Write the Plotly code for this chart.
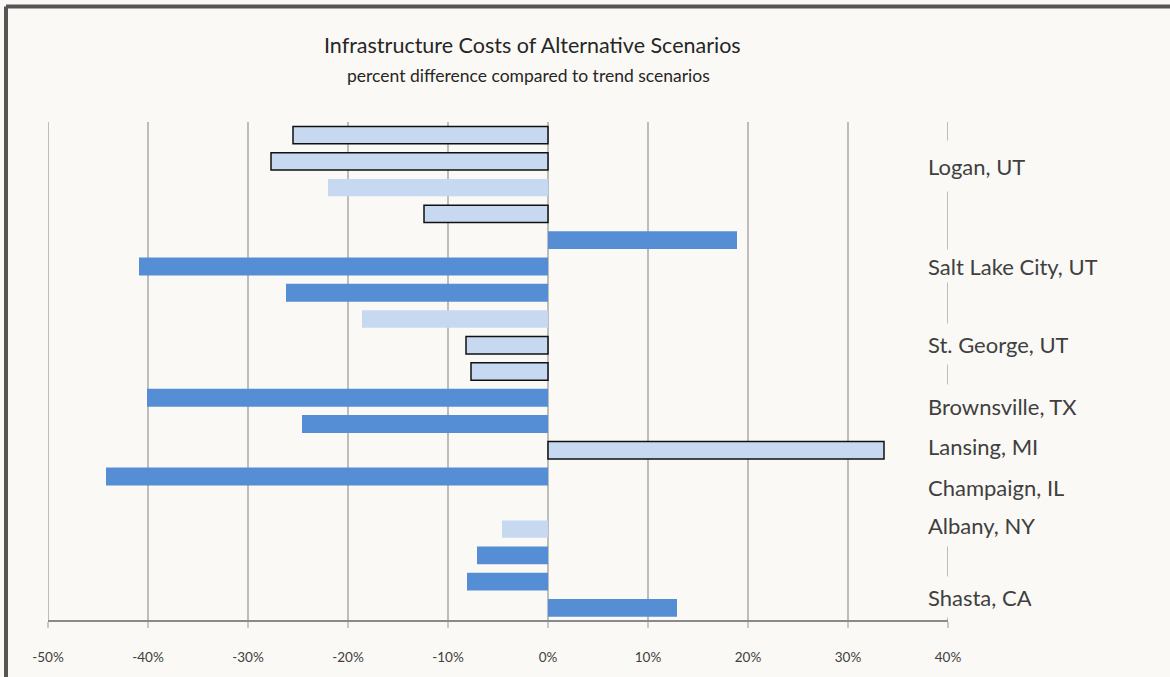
import plotly.graph_objects as go

# ---- data (top to bottom rows; None = empty slot) ----
rows = list(range(19))
values = [-25.5, -27.7, -22.0, -12.4, 18.9, -40.9, -26.2, -18.6, -8.2, -7.7,
          -40.1, -24.6, 33.6, -44.2, None, -4.6, -7.1, -8.1, 12.9]
scenario_type = ["light", "light", "light", "light", "dark", "dark", "dark", "light", "light", "light",
                 "dark", "dark", "light", "dark", None, "light", "dark", "dark", "dark"]
outlined = [True, True, False, True, False, False, False, False, True, True,
            False, False, True, False, False, False, False, False, False]
place_labels = ["Logan, UT", "Salt Lake City, UT", "St. George, UT", "Brownsville, TX",
                "Lansing, MI", "Champaign, IL", "Albany, NY", "Shasta, CA"]
x_ticks = [-50, -40, -30, -20, -10, 0, 10, 20, 30, 40]

# ---- layout helpers (positions, not data) ----
label_rows = [1.17, 5.0, 7.95, 10.3, 11.85, 13.4, 14.85, 17.6]
label_heights = [50, 32, 40, 42, 42, 42, 42, 40]

BG = "#fbf9f5"
LIGHT = "#c6d9f1"
DARK = "#558ed5"
FONT = "Lato"
GRID = "#bdbdbd"

fig = go.Figure()

ly = [r for r, t in zip(rows, scenario_type) if t == "light"]
lx = [v for v, t in zip(values, scenario_type) if t == "light"]
lw = [1.5 if o else 0 for o, t in zip(outlined, scenario_type) if t == "light"]
fig.add_trace(go.Bar(y=ly, x=lx, orientation="h", width=0.66,
                     marker=dict(color=LIGHT, line=dict(color="#111111", width=lw)),
                     showlegend=False, hoverinfo="x"))

dy = [r for r, t in zip(rows, scenario_type) if t == "dark"]
dx = [v for v, t in zip(values, scenario_type) if t == "dark"]
fig.add_trace(go.Bar(y=dy, x=dx, orientation="h", width=0.68,
                     marker=dict(color=DARK, line=dict(width=0)),
                     showlegend=False, hoverinfo="x"))

# edge gridlines at -50% and 40% (drawn below data)
for xv in (x_ticks[0], x_ticks[-1]):
    fig.add_shape(type="line", xref="x", yref="paper", x0=xv, x1=xv, y0=0, y1=1,
                  line=dict(color=GRID, width=2), layer="below")

for lab, r, h in zip(place_labels, label_rows, label_heights):
    fig.add_annotation(x=37.9, y=r, xref="x", yref="y", text=lab, showarrow=False,
                       xanchor="left", yanchor="middle", align="left",
                       height=h, bgcolor=BG, borderpad=0,
                       font=dict(family=FONT, size=22, color="#404040"))

fig.add_annotation(x=(532 - 48) / 900, xref="paper", yref="paper", y=1 + (122 - 45) / 501,
                   text="Infrastructure Costs of Alternative Scenarios", showarrow=False,
                   xanchor="center", yanchor="middle",
                   font=dict(family=FONT, size=21.5, color="#262626"))
fig.add_annotation(x=(528 - 48) / 900, xref="paper", yref="paper", y=1 + (122 - 75) / 501,
                   text="percent difference compared to trend scenarios", showarrow=False,
                   xanchor="center", yanchor="middle",
                   font=dict(family=FONT, size=17.5, color="#262626"))

# axis line
fig.add_shape(type="line", xref="paper", yref="paper", x0=0, x1=1, y0=0, y1=0,
              line=dict(color="#8a8a8a", width=2))
# frame lines
fig.add_shape(type="line", xref="paper", yref="paper", x0=(6 - 48) / 900, x1=(6 - 48) / 900,
              y0=1 + (122 - 6) / 501, y1=-0.2, line=dict(color="#555555", width=4))
fig.add_shape(type="line", xref="paper", yref="paper", x0=(6 - 48) / 900, x1=1.4,
              y0=1 + (122 - 6) / 501, y1=1 + (122 - 6) / 501, line=dict(color="#555555", width=4))

fig.update_layout(
    width=1170, height=677,
    margin=dict(l=48, r=222, t=122, b=54),
    paper_bgcolor=BG, plot_bgcolor=BG,
    barmode="overlay",
    xaxis=dict(range=[-50, 40], tickvals=x_ticks, ticktext=[f"{t}%" for t in x_ticks],
               showgrid=True, gridcolor=GRID, gridwidth=2,
               zeroline=True, zerolinecolor=GRID, zerolinewidth=2,
               showline=False, ticks="outside", ticklen=6, tickcolor="#c8c8c8", tickwidth=2,
               ticklabelstandoff=18,
               tickfont=dict(family=FONT, size=13.5, color="#404040"), fixedrange=True),
    yaxis=dict(range=[18.5, -0.5], showgrid=False, zeroline=False, showticklabels=False,
               showline=False, ticks="", fixedrange=True),
)

fig.write_html("out.html", config={"displayModeBar": False},
               post_script="document.body.style.margin='0px';")
